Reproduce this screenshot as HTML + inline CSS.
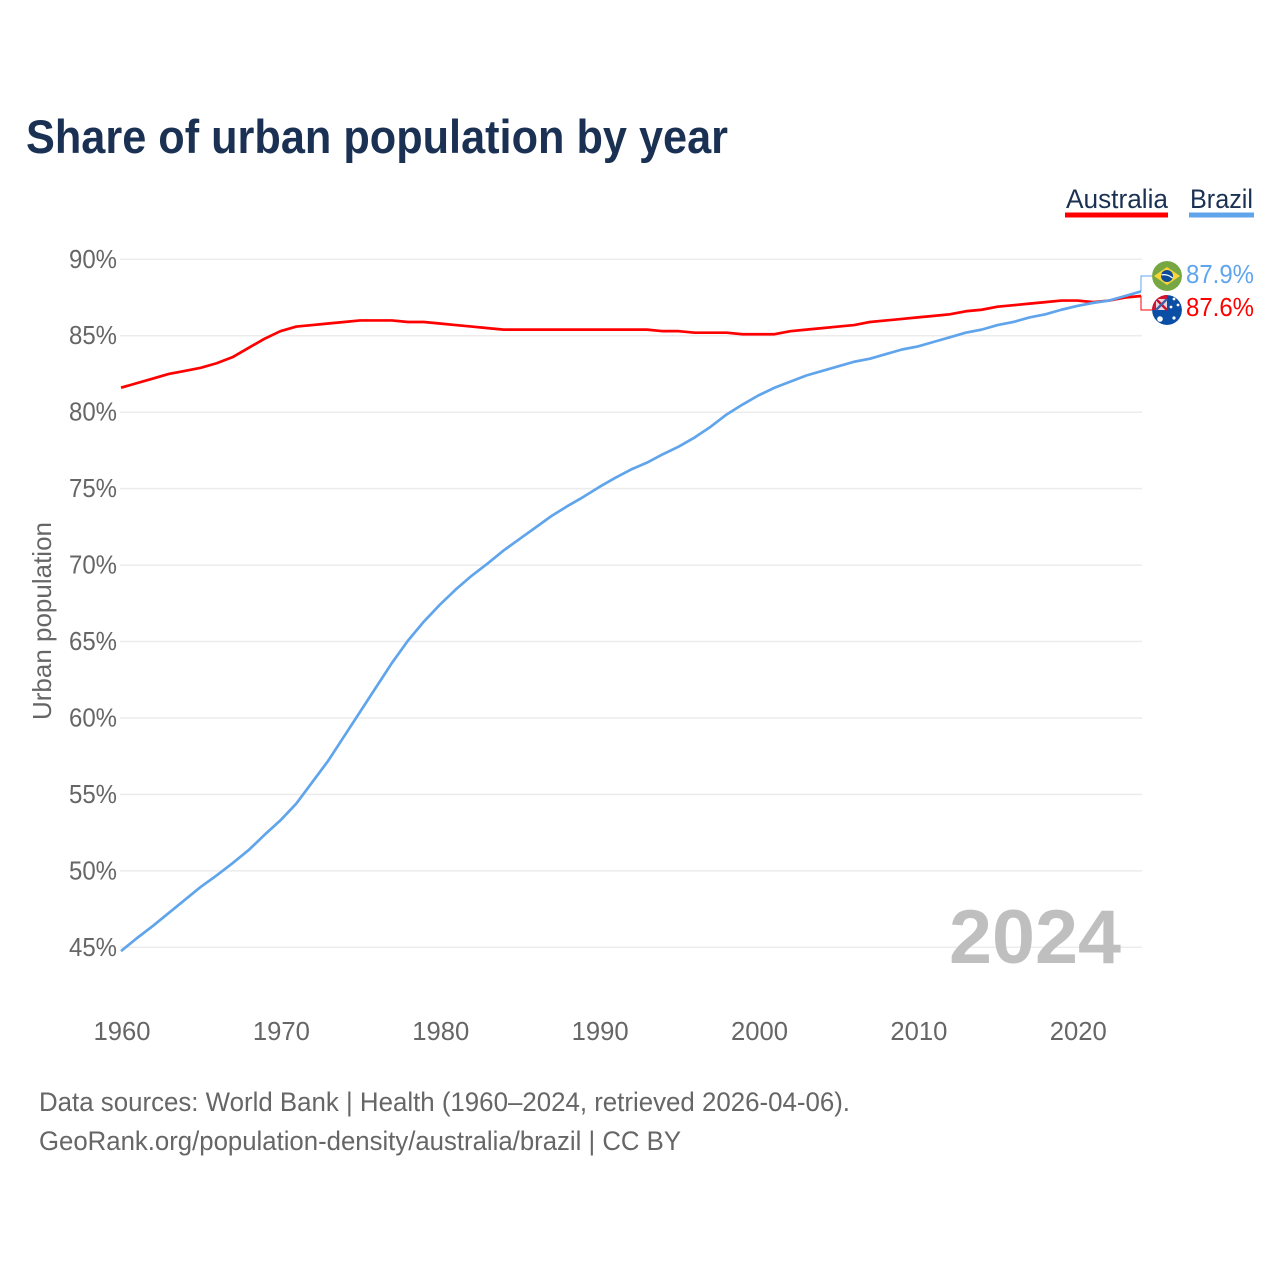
<!DOCTYPE html>
<html lang="en">
<head>
<meta charset="utf-8">
<title>Share of urban population by year</title>
<style>
html,body{margin:0;padding:0;background:#fff;width:1280px;height:1280px;overflow:hidden}
svg{display:block;font-family:"Liberation Sans",sans-serif}
</style>
</head>
<body>
<svg id="chart" xmlns="http://www.w3.org/2000/svg" width="1280" height="1280" viewBox="0 0 1280 1280">
  <rect width="1280" height="1280" fill="#fff"/>
  <text x="26" y="153" font-size="47" font-weight="700" fill="#1a3153" textLength="702" lengthAdjust="spacingAndGlyphs">Share of urban population by year</text>

  <g>
    <g>
      <text x="1066" y="208" font-size="27" fill="#1a3153" textLength="102" lengthAdjust="spacingAndGlyphs">Australia</text>
      <rect x="1065" y="212.5" width="103" height="5" fill="#ff0000"/>
    </g>
    <g>
      <text x="1190" y="208" font-size="27" fill="#1a3153" textLength="63" lengthAdjust="spacingAndGlyphs">Brazil</text>
      <rect x="1189" y="212.5" width="65" height="5" fill="#60a5ec"/>
    </g>
  </g>

  <g id="grid"></g>
  <g id="yticks"></g>
  <g id="xticks"></g>

  <text transform="translate(51,621) rotate(-90)" text-anchor="middle" font-size="26" fill="#666" textLength="198" lengthAdjust="spacingAndGlyphs">Urban population</text>

  <text x="949" y="963" font-size="76" font-weight="700" fill="#bfbfbf" textLength="172" lengthAdjust="spacingAndGlyphs">2024</text>

  <g id="series"></g>

  <defs>
    <clipPath id="clip-au"><circle cx="1167" cy="310" r="15"/></clipPath>
    <clipPath id="clip-br"><circle cx="1167" cy="276" r="15"/></clipPath>
  </defs>

  <g clip-path="url(#clip-br)">
    <circle cx="1167" cy="276" r="15" fill="#76a743"/>
    <polygon points="1154,276 1167,267 1180,276 1167,285" fill="#fbd536"/>
    <circle cx="1167" cy="276" r="6" fill="#0c4a9c"/>
    <path d="M1161.5 275 Q1167 273.5 1172.5 278" stroke="#fff" stroke-width="1.2" fill="none"/>
  </g>

  <g clip-path="url(#clip-au)">
    <circle cx="1167" cy="310" r="15" fill="#0b4ea6"/>
    <rect x="1152" y="295" width="15" height="15" fill="#d2142f"/>
    <rect x="1156" y="299" width="11" height="11" fill="#e8d6de"/>
    <path d="M1156 299 L1167 310" stroke="#c8102e" stroke-width="2.4"/>
    <path d="M1167 299 L1156 310" stroke="#3f5fa8" stroke-width="2.4"/>
    <circle cx="1160" cy="319" r="2.8" fill="#fff"/>
    <circle cx="1174" cy="299" r="1.4" fill="#fff"/>
    <circle cx="1178" cy="305" r="1.4" fill="#fff"/>
    <circle cx="1171" cy="307" r="1.4" fill="#fff"/>
    <circle cx="1174" cy="318" r="1.6" fill="#fff"/>
  </g>

  <g id="endlabels"></g>

  <text x="39" y="1111" font-size="27" fill="#666" textLength="811" lengthAdjust="spacingAndGlyphs">Data sources: World Bank | Health (1960–2024, retrieved 2026-04-06).</text>
  <text x="39" y="1150" font-size="27" fill="#666" textLength="642" lengthAdjust="spacingAndGlyphs">GeoRank.org/population-density/australia/brazil | CC BY</text>
</svg>

<script>
const years = [1960,1961,1962,1963,1964,1965,1966,1967,1968,1969,1970,1971,1972,1973,1974,1975,1976,1977,1978,1979,1980,1981,1982,1983,1984,1985,1986,1987,1988,1989,1990,1991,1992,1993,1994,1995,1996,1997,1998,1999,2000,2001,2002,2003,2004,2005,2006,2007,2008,2009,2010,2011,2012,2013,2014,2015,2016,2017,2018,2019,2020,2021,2022,2023,2024];
const australia = [81.6,81.9,82.2,82.5,82.7,82.9,83.2,83.6,84.2,84.8,85.3,85.6,85.7,85.8,85.9,86.0,86.0,86.0,85.9,85.9,85.8,85.7,85.6,85.5,85.4,85.4,85.4,85.4,85.4,85.4,85.4,85.4,85.4,85.4,85.3,85.3,85.2,85.2,85.2,85.1,85.1,85.1,85.3,85.4,85.5,85.6,85.7,85.9,86.0,86.1,86.2,86.3,86.4,86.6,86.7,86.9,87.0,87.1,87.2,87.3,87.3,87.2,87.3,87.5,87.6];
const brazil = [44.75,45.6,46.4,47.25,48.1,48.95,49.7,50.5,51.35,52.35,53.3,54.4,55.8,57.2,58.8,60.4,62.0,63.6,65.05,66.3,67.4,68.4,69.3,70.1,70.95,71.7,72.45,73.2,73.85,74.45,75.1,75.7,76.25,76.7,77.25,77.75,78.35,79.05,79.85,80.5,81.1,81.6,82.0,82.4,82.7,83.0,83.3,83.5,83.8,84.1,84.3,84.6,84.9,85.2,85.4,85.7,85.9,86.2,86.4,86.7,86.95,87.15,87.3,87.6,87.9];
const yTickValues = [45,50,55,60,65,70,75,80,85,90];
const xTickValues = [1960,1970,1980,1990,2000,2010,2020];

const NS = 'http://www.w3.org/2000/svg';
const xLeft = 121, xRight = 1141, yTop = 259.3, yBottom = 947.3;
function xScale(yr){ return xLeft + (yr - 1960) * (xRight - xLeft) / (2024 - 1960); }
function yScale(v){ return yBottom - (v - 45) * (yBottom - yTop) / (90 - 45); }
function make(tag, attrs, parent, text){
  const el = document.createElementNS(NS, tag);
  for (const k in attrs) el.setAttribute(k, attrs[k]);
  if (text !== undefined) el.textContent = text;
  parent.appendChild(el);
  return el;
}
const grid = document.getElementById('grid');
const yticks = document.getElementById('yticks');
const xticks = document.getElementById('xticks');
const seriesGroup = document.getElementById('series');
const endlabels = document.getElementById('endlabels');

yTickValues.forEach(function(v){
  const line = make('line', {x1:xLeft - 1, x2:xRight + 1, y1:yScale(v), y2:yScale(v), stroke:'#ececec', 'stroke-width':1.5}, grid);
  
  
  const label = make('text', {x:117, y:yScale(v) + 8.5, 'text-anchor':'end', 'font-size':26, fill:'#666', textLength:48, lengthAdjust:'spacingAndGlyphs'}, yticks, v + '%');
  
  
});

xTickValues.forEach(function(yr){
  const label = make('text', {x:xScale(yr) + 1, y:1040, 'text-anchor':'middle', 'font-size':26, fill:'#666', textLength:57, lengthAdjust:'spacingAndGlyphs'}, xticks, String(yr));
  
  
});

function pointsOf(values){
  return values.map(function(v, i){ return xScale(years[i]).toFixed(2) + ',' + yScale(v).toFixed(2); }).join(' ');
}

const lineAustralia = make('polyline', {points:pointsOf(australia), fill:'none', stroke:'#ff0000', 'stroke-width':2.7, 'stroke-linejoin':'round'}, seriesGroup);



const lineBrazil = make('polyline', {points:pointsOf(brazil), fill:'none', stroke:'#60a5ec', 'stroke-width':2.7, 'stroke-linejoin':'round'}, seriesGroup);



const lastAustralia = australia[australia.length - 1];
const lastBrazil = brazil[brazil.length - 1];

const connectorBrazil = make('polyline', {points:xRight + ',' + yScale(lastBrazil) + ' ' + xRight + ',276 1152,276', fill:'none', stroke:'#60a5ec', 'stroke-width':1}, endlabels);



const connectorAustralia = make('polyline', {points:xRight + ',' + yScale(lastAustralia) + ' ' + xRight + ',310 1152,310', fill:'none', stroke:'#ff0000', 'stroke-width':1}, endlabels);



const valueBrazil = make('text', {x:1186, y:283, 'font-size':26, fill:'#60a5ec', textLength:68, lengthAdjust:'spacingAndGlyphs'}, endlabels, lastBrazil.toFixed(1) + '%');



const valueAustralia = make('text', {x:1186, y:316, 'font-size':26, fill:'#ff0000', textLength:68, lengthAdjust:'spacingAndGlyphs'}, endlabels, lastAustralia.toFixed(1) + '%');


</script>
</body>
</html>
